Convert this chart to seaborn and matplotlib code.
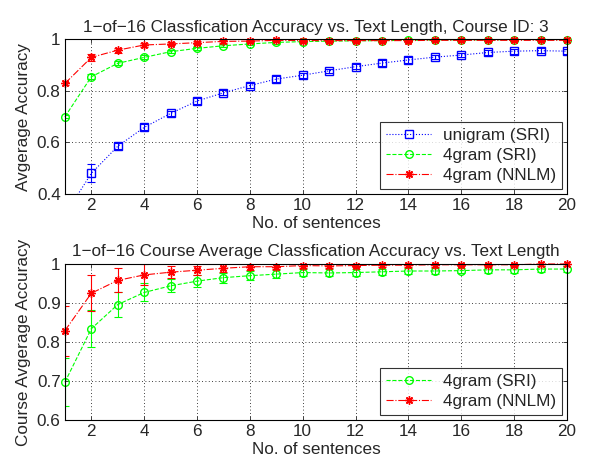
import numpy as np
import pandas as pd
import seaborn as sns
import matplotlib
matplotlib.use("Agg")
import matplotlib.pyplot as plt

# Data
sentences = list(range(1, 21))

uni_sri = [0.32, 0.48, 0.585, 0.658, 0.712, 0.76, 0.792, 0.82, 0.845, 0.86,
           0.877, 0.893, 0.907, 0.919, 0.93, 0.938, 0.948, 0.953, 0.955, 0.953]
uni_sri_err = [0.02, 0.035, 0.012, 0.012, 0.01, 0.012, 0.01, 0.01, 0.01, 0.01,
               0.008, 0.01, 0.01, 0.01, 0.008, 0.008, 0.008, 0.01, 0.01, 0.01]
g4_sri = [0.699, 0.854, 0.906, 0.929, 0.951, 0.964, 0.974, 0.981, 0.987, 0.99,
          0.992, 0.993, 0.994, 0.995, 0.997, 0.997, 0.997, 0.998, 0.998, 0.998]
g4_sri_err = [0.006, 0.01, 0.008, 0.008, 0.006, 0.006, 0.006, 0.005, 0.005, 0.005,
              0.005, 0.004, 0.004, 0.004, 0.004, 0.004, 0.004, 0.004, 0.004, 0.004]
g4_nnlm = [0.828, 0.929, 0.957, 0.977, 0.981, 0.986, 0.991, 0.992, 0.995, 0.994,
           0.994, 0.994, 0.994, 0.994, 0.995, 0.995, 0.995, 0.995, 0.995, 0.995]
g4_nnlm_err = [0.006, 0.015, 0.01, 0.008, 0.006, 0.006, 0.005, 0.005, 0.004, 0.004,
               0.004, 0.004, 0.004, 0.004, 0.004, 0.004, 0.004, 0.004, 0.004, 0.004]

# course average
c_sri = [0.697, 0.834, 0.896, 0.927, 0.944, 0.956, 0.965, 0.970, 0.974, 0.978,
         0.977, 0.978, 0.980, 0.982, 0.982, 0.983, 0.985, 0.985, 0.987, 0.987]
c_sri_err = [0.061, 0.048, 0.033, 0.023, 0.017, 0.015, 0.013, 0.011, 0.01, 0.01,
             0.009, 0.009, 0.008, 0.008, 0.008, 0.007, 0.007, 0.007, 0.007, 0.007]
c_nnlm = [0.829, 0.925, 0.958, 0.972, 0.979, 0.984, 0.989, 0.993, 0.993, 0.996,
          0.995, 0.996, 0.997, 0.997, 0.998, 0.998, 0.998, 0.998, 1.0, 1.0]
c_nnlm_err = [0.064, 0.046, 0.031, 0.027, 0.016, 0.012, 0.01, 0.008, 0.007, 0.006,
              0.006, 0.005, 0.005, 0.005, 0.005, 0.004, 0.004, 0.004, 0.004, 0.004]

xticks = [2, 4, 6, 8, 10, 12, 14, 16, 18, 20]

sns.set_style("ticks")
plt.rcParams['font.family'] = ['Liberation Sans', 'DejaVu Sans']
plt.rcParams['xtick.direction'] = 'in'
plt.rcParams['ytick.direction'] = 'in'
FS = 12.3

fig = plt.figure(figsize=(5.9, 4.62), dpi=100)
ax1 = fig.add_axes([0.110, 0.580, 0.851, 0.3355])
ax2 = fig.add_axes([0.110, 0.0909, 0.851, 0.3377])

styles = {
    'unigram (SRI)': dict(color=(0, 0, 1), ls=':', marker='s', mfc='none', ms=5.5),
    '4gram (SRI)': dict(color=(0, 1, 0), ls='--', marker='o', mfc='none', ms=5.5),
    '4gram (NNLM)': dict(color=(1, 0, 0), ls='-.', marker=(8, 2, 0), mfc='none', ms=6),
}


def draw(ax, series):
    for name, y, err in series:
        st = styles[name]
        d = pd.DataFrame({'x': sentences, 'y': y})
        n0 = len(ax.lines)
        sns.lineplot(data=d, x='x', y='y', ax=ax, color=st['color'], linestyle=st['ls'],
                     marker=st['marker'], markerfacecolor=st['mfc'], markeredgecolor=st['color'],
                     markersize=st['ms'], markeredgewidth=1.0, linewidth=0.8, label=name)
        if name != 'unigram (SRI)':
            for ln in ax.lines[n0:]:
                ln.set_clip_on(False)
        ax.errorbar(sentences, y, yerr=err, fmt='none', ecolor=st['color'],
                    elinewidth=0.8, capsize=2.6, capthick=0.8)
    ax.set_xlim(1, 20)
    ax.set_xticks(xticks)
    ax.grid(True, color='black', linestyle=(0, (1, 3)), linewidth=0.6)
    for s in ax.spines.values():
        s.set_linewidth(0.8)
        s.set_color('black')
    ax.tick_params(length=3, width=0.6, top=True, right=True, labelsize=FS, pad=3)
    ax.set_xlabel('No. of sentences', fontsize=FS, labelpad=2)
    leg = ax.legend(loc='lower right', frameon=True, fancybox=False, edgecolor='black',
                    fontsize=FS, handlelength=2.6, borderaxespad=0.3,
                    labelspacing=0.3, borderpad=0.35, handletextpad=0.7)
    leg.get_frame().set_linewidth(0.8)


draw(ax1, [('unigram (SRI)', uni_sri, uni_sri_err),
           ('4gram (SRI)', g4_sri, g4_sri_err),
           ('4gram (NNLM)', g4_nnlm, g4_nnlm_err)])
ax1.set_ylim(0.4, 1)
ax1.set_yticks([0.4, 0.6, 0.8, 1.0])
ax1.set_yticklabels(['0.4', '0.6', '0.8', '1'])
ax1.set_ylabel('Avgerage Accuracy', fontsize=FS)
ax1.set_title('1\u2212of\u221216 Classfication Accuracy vs. Text Length, Course ID: 3',
              fontsize=FS, pad=5)

draw(ax2, [('4gram (SRI)', c_sri, c_sri_err),
           ('4gram (NNLM)', c_nnlm, c_nnlm_err)])
ax2.set_ylim(0.6, 1)
ax2.set_yticks([0.6, 0.7, 0.8, 0.9, 1.0])
ax2.set_yticklabels(['0.6', '0.7', '0.8', '0.9', '1'])
ax2.set_ylabel('Course Avgerage Accuracy', fontsize=FS)
ax2.set_title('1\u2212of\u221216 Course Average Classfication Accuracy vs. Text Length',
              fontsize=FS, pad=6)

fig.savefig('out.png', dpi=100)
